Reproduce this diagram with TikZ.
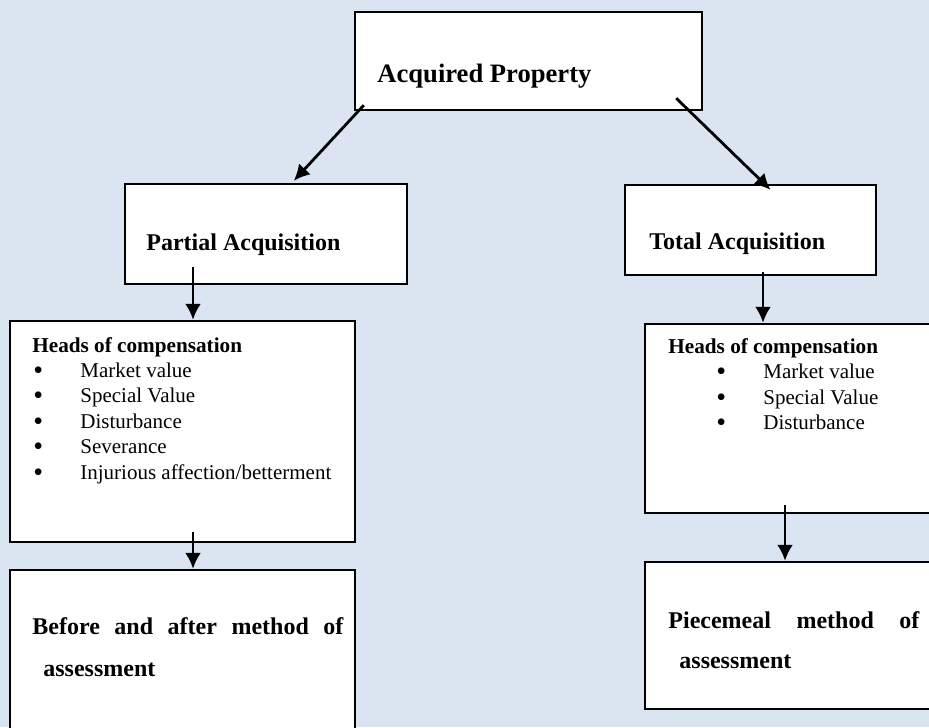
\documentclass[tikz,border=0pt]{standalone}
\usepackage{fontspec}
\setmainfont{Liberation Serif}
\usepackage{tikz}
\usetikzlibrary{arrows.meta, calc}
\definecolor{bgblue}{RGB}{219,229,241}

\begin{document}
\begin{tikzpicture}[x=0.5pt, y=-0.5pt,
	            every rectangle node/.style={
	            inner sep=0pt,
	            },
	            box/.style={
	            draw,
	            fill=white,
	            line width=1.2pt,
	            },
	            title/.style={anchor=base west, font=\fontsize{13.3}{16}\selectfont\bfseries},
	            head/.style={anchor=base west, font=\fontsize{12}{14}\selectfont\bfseries},
	            small/.style={anchor=base west, font=\fontsize{10.6}{12}\selectfont\bfseries},
	            item/.style={anchor=base west, font=\fontsize{10.5}{12}\selectfont},
	            dot/.style={anchor=base west, font=\fontsize{14}{12}\selectfont},
	            >={Latex[length=8pt,width=8pt]},
	            line width=1.4pt]

	        \path[use as bounding box, fill=bgblue] (0,0) rectangle (929,727);
	        \clip (0,0) rectangle (929,727);

	        \node[box, minimum width=173.5pt, minimum height=49pt] (acq) at (528.5,61) {};
	        \node[box, minimum width=141pt, minimum height=50pt] (part) at (266,234) {};
	        \node[box, minimum width=125.5pt, minimum height=45pt] (tot) at (750.5,230) {};
	        \node[box, minimum width=172.5pt, minimum height=110.5pt] (hl) at (182.5,431.5) {};
	        \node[box, minimum width=172.5pt, minimum height=95pt] (bf) at (182.5,665) {};
	        \node[box, minimum width=157.5pt, minimum height=94.5pt] (hr) at (802.5,418.5) {};
	        \node[box, minimum width=157.5pt, minimum height=73.5pt] (pc) at (802.5,635.5) {};

	        \node[title] (acqt) at (376,83) {Acquired Property};
	        \node[head] (partt) at (145,250) {Partial Acquisition};
	        \node[head] (tott) at (648,249) {Total Acquisition};

	        \node[small] (hlt) at (31,352) {Heads of compensation};
	        \node[dot] (b1) at (32,379) {\textbullet};
	        \node[item] (l1) at (79,377) {Market value};
	        \node[dot] (b2) at (32,404.6) {\textbullet};
	        \node[item] (l2) at (79,402.6) {Special Value};
	        \node[dot] (b3) at (32,430.2) {\textbullet};
	        \node[item] (l3) at (79,428.2) {Disturbance};
	        \node[dot] (b4) at (32,455.8) {\textbullet};
	        \node[item] (l4) at (79,453.8) {Severance};
	        \node[dot] (b5) at (32,481.4) {\textbullet};
	        \node[item] (l5) at (79,479.4) {Injurious affection/betterment};

	        \node[small] (hrt) at (667,353) {Heads of compensation};
	        \node[dot] (c1) at (715,380.5) {\textbullet};
	        \node[item] (r1) at (762,378.5) {Market value};
	        \node[dot] (c2) at (715,406) {\textbullet};
	        \node[item] (r2) at (762,404) {Special Value};
	        \node[dot] (c3) at (715,431.5) {\textbullet};
	        \node[item] (r3) at (762,429.5) {Disturbance};

	        \node[head] (bft1) at (31,634) {\makebox[155.5pt][s]{Before and after method of}};
	        \node[head] (bft2) at (42,676) {assessment};
	        \node[head] (pct1) at (667,628) {\makebox[125.5pt][s]{Piecemeal method of}};
	        \node[head] (pct2) at (678,668) {assessment};

	        \draw[->] ([xshift=5pt,yshift=3pt]acq.south west) -- ([xshift=85pt,yshift=1pt]part.north west);
	        \draw[->] ([xshift=-13.5pt,yshift=6.5pt]acq.south east) -- ([xshift=10pt,yshift=-3pt]tot.north);

	        \coordinate (s3) at ([xshift=-36.5pt,yshift=9pt]part.south);
	        \draw[->] (s3) -- (s3 |- hl.north);
	        \coordinate (s4) at ([xshift=6.25pt,yshift=2pt]tot.south);
	        \draw[->] (s4) -- (s4 |- hr.north);
	        \coordinate (s5) at ([xshift=5.25pt,yshift=5.5pt]hl.south);
	        \draw[->] (s5) -- (s5 |- bf.north);
	        \coordinate (s6) at ([xshift=-8.75pt,yshift=4.5pt]hr.south);
	        \draw[->] (s6) -- (s6 |- pc.north);

	    \end{tikzpicture}
\end{document}
